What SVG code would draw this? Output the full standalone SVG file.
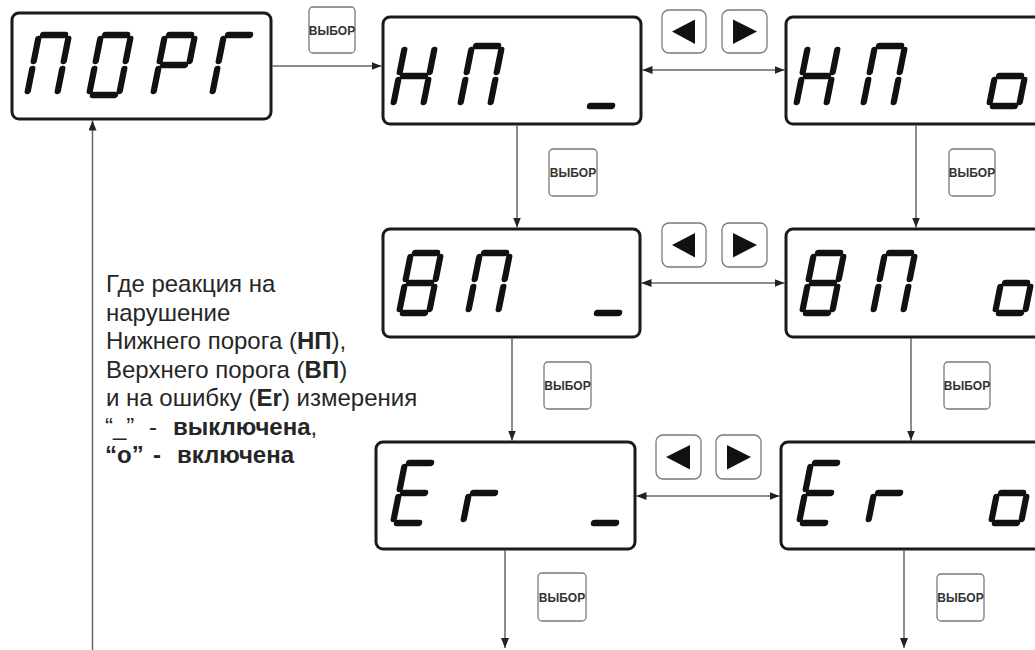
<svg xmlns="http://www.w3.org/2000/svg" width="1035" height="650" viewBox="0 0 1035 650">
<style>
.box{fill:#fff;stroke:#1a1a1a;stroke-width:3}
.seg{fill:none;stroke:#111;stroke-width:6.3;stroke-linecap:round}
.btn{fill:#fff;stroke:#7a7a7a;stroke-width:1.3}
.btxt{font-family:"Liberation Sans",Arial,sans-serif;font-size:12px;font-weight:bold;fill:#333;text-anchor:middle}
.tri{fill:#111}
.conn{fill:none;stroke:#666;stroke-width:1.5}
.arr{marker-end:url(#ah)}
.dbl{marker-start:url(#ah);marker-end:url(#ah)}
.legend{font-family:"Liberation Sans",Arial,sans-serif;font-size:24px;fill:#262626}
.b{font-weight:bold}
</style>
<defs>
<marker id="ah" viewBox="0 0 10 8" refX="10" refY="4" markerWidth="10" markerHeight="8" markerUnits="userSpaceOnUse" orient="auto-start-reverse">
<path d="M0,0 L10,4 L0,8 Z" fill="#222"/>
</marker>
<path id="sa" class="seg" d="M4,0H26"/>
<path id="sb" class="seg" d="M30,4V26"/>
<path id="sc" class="seg" d="M30,34V56"/>
<path id="sd" class="seg" d="M4,60H26"/>
<path id="se" class="seg" d="M0,34V56"/>
<path id="sf" class="seg" d="M0,4V26"/>
<path id="sg" class="seg" d="M4,30H26"/>
<g id="gP"><use href="#sa"/><use href="#sb"/><use href="#sc"/><use href="#se"/><use href="#sf"/></g>
<g id="gO"><use href="#sa"/><use href="#sb"/><use href="#sc"/><use href="#sd"/><use href="#se"/><use href="#sf"/></g>
<g id="gR"><use href="#sa"/><use href="#sb"/><use href="#se"/><use href="#sf"/><use href="#sg"/></g>
<g id="gG"><use href="#sa"/><use href="#se"/><use href="#sf"/></g>
<g id="gH"><use href="#sb"/><use href="#sc"/><use href="#se"/><use href="#sf"/><use href="#sg"/></g>
<g id="gB"><use href="#sa"/><use href="#sb"/><use href="#sc"/><use href="#sd"/><use href="#se"/><use href="#sf"/><use href="#sg"/></g>
<g id="gE"><use href="#sa"/><use href="#sd"/><use href="#se"/><use href="#sf"/><use href="#sg"/></g>
<g id="gr"><use href="#se"/><use href="#sg"/></g>
<g id="go"><use href="#sc"/><use href="#sd"/><use href="#se"/><use href="#sg"/></g>
<g id="gu"><use href="#sd"/></g>
</defs>

<rect width="1035" height="650" fill="#fff"/>

<g id="connectors">
<line class="conn arr" x1="272.5" y1="66" x2="381.5" y2="66"/>
<line class="conn dbl" x1="642.5" y1="70" x2="784.5" y2="70"/>
<line class="conn dbl" x1="641.5" y1="283" x2="784.5" y2="283"/>
<line class="conn dbl" x1="636.5" y1="496" x2="779.5" y2="496"/>
<line class="conn arr" x1="517" y1="125.5" x2="517" y2="227.5"/>
<line class="conn arr" x1="916" y1="125.5" x2="916" y2="227.5"/>
<line class="conn arr" x1="512" y1="338.5" x2="512" y2="440.5"/>
<line class="conn arr" x1="911" y1="338.5" x2="911" y2="440.5"/>
<line class="conn arr" x1="505" y1="550.5" x2="505" y2="648"/>
<line class="conn arr" x1="904" y1="550.5" x2="904" y2="648"/>
<line class="conn arr" x1="92.5" y1="650" x2="92.5" y2="120.5"/>
</g>

<g id="n-porg">
<rect class="box" x="12" y="13" width="259" height="106" rx="7"/>
<use href="#gP" transform="translate(39,35) skewX(-11.3)"/>
<use href="#gO" transform="translate(101,35) skewX(-11.3)"/>
<use href="#gR" transform="translate(165,35) skewX(-11.3)"/>
<use href="#gG" transform="translate(224,35) skewX(-11.3)"/>
</g>

<g id="n-np-off">
<rect class="box" x="383" y="17" width="258" height="107" rx="7"/>
<use href="#gH" transform="translate(405,46) skewX(-11.3)"/>
<use href="#gP" transform="translate(472,46) skewX(-11.3)"/>
<use href="#gu" transform="translate(598,46) skewX(-11.3)"/>
</g>

<g id="n-np-on">
<rect class="box" x="786" y="17" width="300" height="107" rx="7"/>
<use href="#gH" transform="translate(808,46) skewX(-11.3)"/>
<use href="#gP" transform="translate(875,46) skewX(-11.3)"/>
<use href="#go" transform="translate(1001,46) skewX(-11.3)"/>
</g>

<g id="n-vp-off">
<rect class="box" x="383" y="229" width="257" height="108" rx="7"/>
<use href="#gB" transform="translate(411,253) skewX(-11.3)"/>
<use href="#gP" transform="translate(480,253) skewX(-11.3)"/>
<use href="#gu" transform="translate(605,253) skewX(-11.3)"/>
</g>

<g id="n-vp-on">
<rect class="box" x="786" y="229" width="300" height="108" rx="7"/>
<use href="#gB" transform="translate(814,253) skewX(-11.3)"/>
<use href="#gP" transform="translate(885,253) skewX(-11.3)"/>
<use href="#go" transform="translate(1007,253) skewX(-11.3)"/>
</g>

<g id="n-er-off">
<rect class="box" x="376" y="442" width="259" height="107" rx="7"/>
<use href="#gE" transform="translate(405,463) skewX(-11.3)"/>
<use href="#gr" transform="translate(475,463) skewX(-11.3)"/>
<use href="#gu" transform="translate(602,463) skewX(-11.3)"/>
</g>

<g id="n-er-on">
<rect class="box" x="781" y="442" width="300" height="107" rx="7"/>
<use href="#gE" transform="translate(811,463) skewX(-11.3)"/>
<use href="#gr" transform="translate(880,463) skewX(-11.3)"/>
<use href="#go" transform="translate(1003,463) skewX(-11.3)"/>
</g>

<g id="btn-select-1"><rect class="btn" x="309" y="7" width="46" height="46" rx="4"/><text class="btxt" x="332" y="34.5">ВЫБОР</text></g>
<g id="btn-select-2"><rect class="btn" x="549" y="149" width="48" height="47" rx="4"/><text class="btxt" x="573" y="176.5">ВЫБОР</text></g>
<g id="btn-select-3"><rect class="btn" x="949" y="149" width="46" height="47" rx="4"/><text class="btxt" x="972" y="176.5">ВЫБОР</text></g>
<g id="btn-select-4"><rect class="btn" x="544" y="362" width="47" height="47" rx="4"/><text class="btxt" x="567.5" y="389.5">ВЫБОР</text></g>
<g id="btn-select-5"><rect class="btn" x="944" y="362" width="46" height="47" rx="4"/><text class="btxt" x="967" y="389.5">ВЫБОР</text></g>
<g id="btn-select-6"><rect class="btn" x="538" y="573" width="48" height="48" rx="4"/><text class="btxt" x="562" y="601.5">ВЫБОР</text></g>
<g id="btn-select-7"><rect class="btn" x="937" y="574" width="47" height="47" rx="4"/><text class="btxt" x="960.5" y="601.5">ВЫБОР</text></g>

<g id="btn-arrows-1">
<rect class="btn" x="662" y="10" width="44" height="43" rx="7"/>
<polygon class="tri" points="672,31.5 695,19.5 695,44"/>
<rect class="btn" x="722" y="10" width="45" height="43" rx="7"/>
<polygon class="tri" points="733,19.5 757,31.5 733,44"/>
</g>
<g id="btn-arrows-2">
<rect class="btn" x="662" y="223" width="44" height="44" rx="7"/>
<polygon class="tri" points="672,245 695,233 695,257.5"/>
<rect class="btn" x="722" y="223" width="45" height="44" rx="7"/>
<polygon class="tri" points="733,233 757,245 733,257.5"/>
</g>
<g id="btn-arrows-3">
<rect class="btn" x="656" y="435" width="45" height="44" rx="7"/>
<polygon class="tri" points="666,457 690,445 690,469.5"/>
<rect class="btn" x="716" y="435" width="45" height="44" rx="7"/>
<polygon class="tri" points="727,445 751,457 727,469.5"/>
</g>

<g id="legend" class="legend">
<text x="106" y="292">Где реакция на</text>
<text x="106" y="320.5">нарушение</text>
<text x="106" y="349">Нижнего порога (<tspan class="b">НП</tspan>),</text>
<text x="106" y="377.5">Верхнего порога (<tspan class="b">ВП</tspan>)</text>
<text x="106" y="406">и на ошибку (<tspan class="b">Er</tspan>) измерения</text>
<text x="105" y="434.5">“_”<tspan x="149">-</tspan><tspan x="173" class="b">выключена</tspan>,</text>
<text x="105" y="463" class="b">“о”<tspan x="153">-</tspan><tspan x="177">включена</tspan></text>
</g>
</svg>
